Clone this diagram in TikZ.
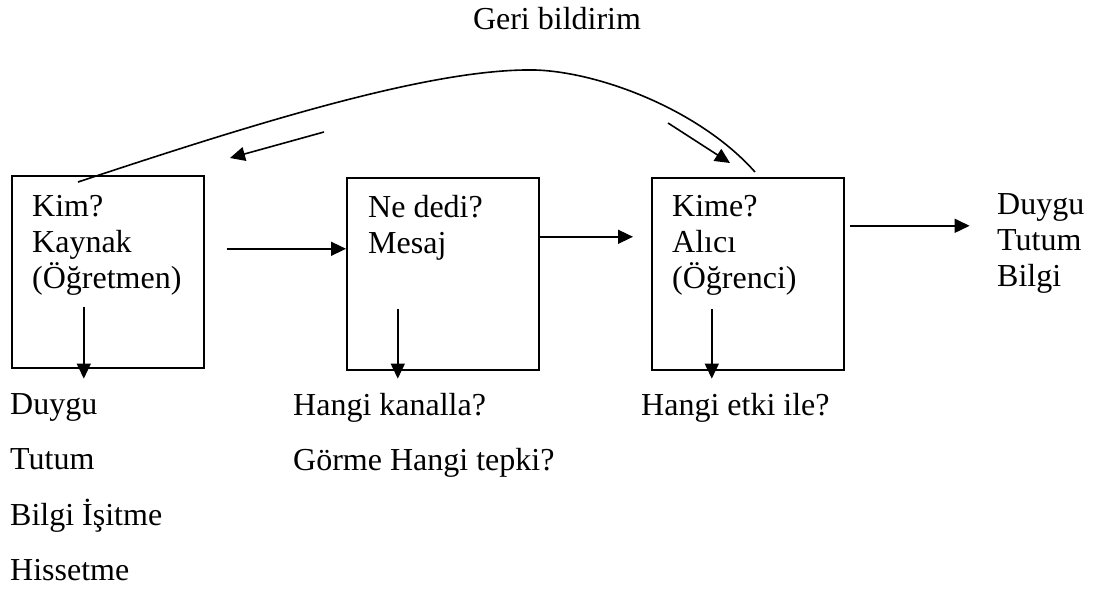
\documentclass[tikz,border=0pt]{standalone}
\usepackage{fontspec}
\setmainfont{Liberation Serif}
\usetikzlibrary{positioning, arrows.meta}

\begin{document}
\begin{tikzpicture}[x=1pt, y=-1pt,
			font=\fontsize{32}{36}\selectfont,
			kutu/.style={draw, line width=1.6pt, minimum width=192pt, minimum height=192pt,
			             inner sep=0pt, anchor=north west},
			yazi/.style={align=left, inner sep=0pt, anchor=north west},
			ok/.style={line width=1.6pt, -{Triangle[length=15pt, width=14pt]}}]
		\useasboundingbox (0,0) rectangle (1093,589);
		% kutular
		\node[kutu] (kaynak) at (11,175) {};
		\node[kutu] (mesaj) at (346,177) {};
		\node[kutu] (alici) at (651,177) {};
		\node[yazi] (kaynakyazi) at (32,195.5) {Kim?\\Kaynak\\(Öğretmen)};
		\node[yazi] (mesajyazi) at (368,195.5) {Ne dedi?\\Mesaj};
		\node[yazi] (aliciyazi) at (672,195.5) {Kime?\\Alıcı\\(Öğrenci)};
		% alttaki yazilar
		\node[yazi, font=\fontsize{32}{55.5}\selectfont] (kaynakalt) at (10,393)
			{Duygu\\Tutum\\Bilgi İşitme\\Hissetme};
		\node[yazi, font=\fontsize{32}{55.5}\selectfont] (mesajalt) at (293,393)
			{Hangi kanalla?\\Görme Hangi tepki?};
		\node[yazi] (alicialt) at (641,393) {Hangi etki ile?};
		\node[yazi] (sonuc) at (997,193) {Duygu\\Tutum\\Bilgi};
		\node[anchor=base, inner sep=0pt] (geri) at (557,30) {Geri bildirim};
		% oklar
		\draw[ok] ([xshift=22pt, yshift=23pt]kaynak.east) -- ([yshift=25pt]mesaj.west);
		\draw[ok] ([yshift=37pt]mesaj.east) -- ([xshift=-18pt, yshift=37pt]alici.west);
		\draw[ok] ([xshift=5pt, yshift=48pt]alici.east) -- ([xshift=125pt, yshift=48pt]alici.east);
		\draw[ok] ([xshift=-24pt, yshift=62pt]kaynak.south) -- ([xshift=-24pt, yshift=-10pt]kaynak.south);
		\draw[ok] ([xshift=-45pt, yshift=62pt]mesaj.south) -- ([xshift=-45pt, yshift=-8pt]mesaj.south);
		\draw[ok] ([xshift=-36pt, yshift=62pt]alici.south) -- ([xshift=-36pt, yshift=-8pt]alici.south);
		% geri bildirim egrisi
		\coordinate (egribas) at (78,182);
		\coordinate (egrison) at (755,172);
		\draw[line width=1.6pt] (egribas) .. controls (250,125) and (430,68) .. (535,70)
			.. controls (600,72) and (700,110) .. (egrison);
		\coordinate (gerisol) at (324,132);
		\coordinate (gerisolu) at (230,158);
		\coordinate (gerisag) at (668,123);
		\coordinate (gerisagu) at (730,163);
		\draw[ok] (gerisol) -- (gerisolu);
		\draw[ok] (gerisag) -- (gerisagu);
\end{tikzpicture}
\end{document}
